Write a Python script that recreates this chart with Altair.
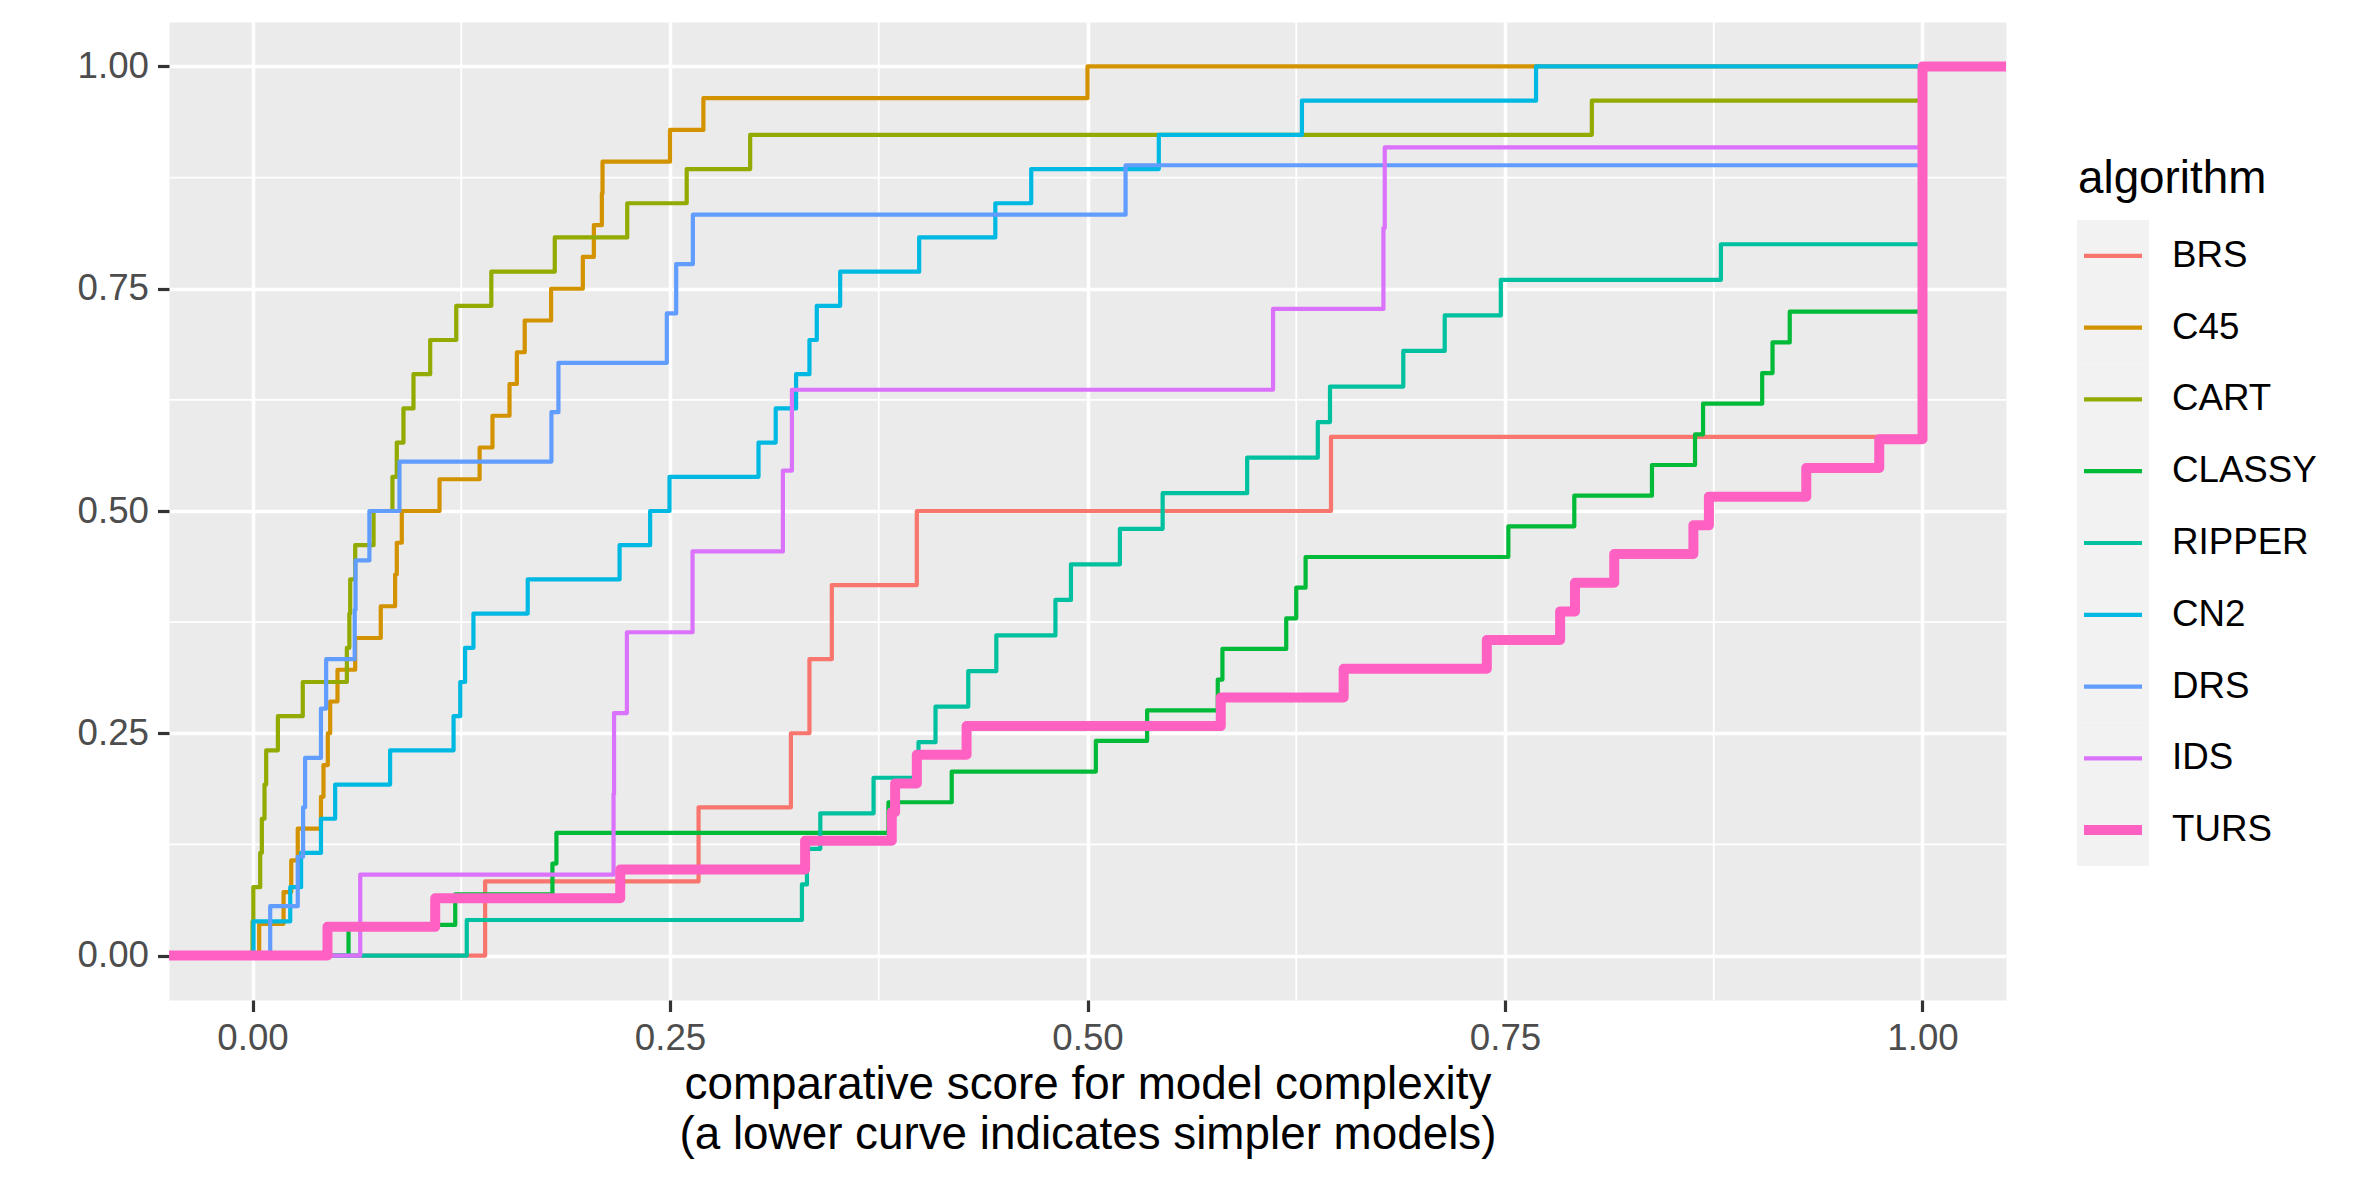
import altair as alt
import pandas as pd

# ---------------- data ----------------
XMIN, XMAX = -0.05, 1.05
YMIN, YMAX = -0.05, 1.05

algorithms = ["BRS", "C45", "CART", "CLASSY", "RIPPER", "CN2", "DRS", "IDS", "TURS"]
colors = ["#F8766D", "#D39200", "#93AA00", "#00BA38", "#00C19F",
          "#00B9E3", "#619CFF", "#DB72FB", "#FF61C3"]

# comparative complexity scores (one value per dataset) per algorithm
brs = [0.1393, 0.2671, 0.3224, 0.3335, 0.3469, 0.3978, 0.6458,
       1.0, 1.0, 1.0, 1.0, 1.0]
c45 = [0.004, 0.0186, 0.0232, 0.0271, 0.041, 0.0425, 0.0451, 0.0465, 0.0509,
       0.0615, 0.0768, 0.0854, 0.0864, 0.0894, 0.112, 0.136, 0.1437, 0.1539,
       0.1583, 0.1630, 0.1788, 0.1978, 0.2044, 0.2092, 0.2096, 0.25, 0.27, 0.5]
cart = [0.0, 0.0005, 0.0046, 0.0056, 0.0072, 0.0082, 0.0152, 0.0301, 0.0565,
        0.058, 0.0585, 0.0615, 0.0725, 0.0838, 0.0864, 0.0904, 0.0964, 0.1064,
        0.122, 0.143, 0.181, 0.2244, 0.26, 0.298, 0.802, 1.0]
classy = [0.0575, 0.1214, 0.1796, 0.182, 0.3808, 0.4187, 0.505, 0.5357, 0.578,
          0.5808, 0.619, 0.625, 0.6306, 0.752, 0.7915, 0.838, 0.8638, 0.8686,
          0.904, 0.9102, 0.9205, 1.0, 1.0, 1.0, 1.0, 1.0, 1.0, 1.0, 1.0]
ripper = [0.1283, 0.329, 0.332, 0.34, 0.3719, 0.3988, 0.409, 0.4286, 0.4454,
          0.4808, 0.4901, 0.5194, 0.545, 0.5956, 0.6379, 0.6452, 0.6891, 0.7139,
          0.7475, 0.8793, 1.0, 1.0, 1.0, 1.0, 1.0]
cn2 = [0.0006, 0.0226, 0.0291, 0.041, 0.0495, 0.0824, 0.1204, 0.1244, 0.1273,
       0.1323, 0.1648, 0.2198, 0.2381, 0.2497, 0.303, 0.3133, 0.3255, 0.3335,
       0.3379, 0.3519, 0.3992, 0.4448, 0.4663, 0.5427, 0.6284, 0.7686]
drs = [0.0106, 0.0271, 0.0303, 0.0315, 0.041, 0.0441, 0.0612, 0.0617, 0.070,
       0.088, 0.179, 0.1832, 0.2481, 0.2537, 0.2637, 0.5228, 1.0, 1.0]
ids = [0.0645, 0.2162, 0.2165, 0.2242, 0.2635, 0.3176, 0.323, 0.6111, 0.6772,
       0.678, 1.0]
turs = [0.0449, 0.1094, 0.2202, 0.3309, 0.3828, 0.3848, 0.3978, 0.4276, 0.5798,
        0.6534, 0.7391, 0.783, 0.7919, 0.8154, 0.8628, 0.8721, 0.9304, 0.9741,
        1.0, 1.0, 1.0, 1.0, 1.0, 1.0, 1.0, 1.0, 1.0, 1.0, 1.0, 1.0, 1.0]

major_ticks = [0.0, 0.25, 0.5, 0.75, 1.0]
minor_ticks = [0.125, 0.375, 0.625, 0.875]

x_title = ["comparative score for model complexity",
           "(a lower curve indicates simpler models)"]
legend_title = "algorithm"

scores = {"BRS": brs, "C45": c45, "CART": cart, "CLASSY": classy,
          "RIPPER": ripper, "CN2": cn2, "DRS": drs, "IDS": ids, "TURS": turs}

# empirical cumulative distribution (like stat_ecdf with padding)
rows = []
for alg in algorithms:
    obs = sorted(scores[alg])
    n = len(obs)
    rows.append({"algorithm": alg, "score": XMIN, "ecdf": 0.0, "step": 0})
    for i, v in enumerate(obs):
        rows.append({"algorithm": alg, "score": v, "ecdf": (i + 1) / n, "step": i + 1})
    rows.append({"algorithm": alg, "score": XMAX, "ecdf": 1.0, "step": n + 1})
df = pd.DataFrame(rows)
minor_df = pd.DataFrame({"v": minor_ticks})
leg_df = pd.DataFrame({"algorithm": algorithms})
title_df = pd.DataFrame({"t": [legend_title]})

# ---------------- styling ----------------
W, H = 1837, 978
FONT = "Liberation Sans"

xscale = alt.Scale(domain=[XMIN, XMAX], nice=False, zero=False)
yscale = alt.Scale(domain=[YMIN, YMAX], nice=False, zero=False)
cscale = alt.Scale(domain=algorithms, range=colors)

common_axis = dict(values=major_ticks, format=".2f", labelFontSize=36.7,
                   labelColor="#4D4D4D", labelFont=FONT, tickSize=11.5,
                   tickWidth=3.2, tickColor="#333333", domain=False, grid=True,
                   gridColor="white", gridWidth=3.5, labelOverlap=False,
                   labelFlush=False, labelPadding=9)
x_axis = alt.Axis(title=x_title, titleFontSize=45.8, titleFontWeight="normal",
                  titleColor="black", titleFont=FONT, titleLineHeight=50,
                  titlePadding=5, **common_axis)
y_axis = alt.Axis(title="", **common_axis)

minor_x = alt.Chart(minor_df).mark_rule(color="white", strokeWidth=1.8).encode(
    x=alt.X("v:Q", scale=xscale, axis=x_axis))
minor_y = alt.Chart(minor_df).mark_rule(color="white", strokeWidth=1.8).encode(
    y=alt.Y("v:Q", scale=yscale, axis=y_axis))

def step_layer(filter_expr, width):
    return alt.Chart(df).transform_filter(filter_expr).mark_line(
        interpolate="step-after", strokeWidth=width, strokeJoin="round",
        strokeCap="butt").encode(
        x=alt.X("score:Q", scale=xscale, axis=x_axis),
        y=alt.Y("ecdf:Q", scale=yscale, axis=y_axis),
        color=alt.Color("algorithm:N", scale=cscale, legend=None),
        order=alt.Order("step:Q"))

others = step_layer("datum.algorithm != 'TURS'", 4.2)
turs_line = step_layer("datum.algorithm == 'TURS'", 10)

main = alt.layer(minor_x, minor_y, others, turs_line)

# ---------------- manual legend (ggplot style) ----------------
band = alt.Scale(type="band", domain=algorithms, range=[198, 844],
                 paddingInner=0, paddingOuter=0)
pts = alt.Scale(type="point", domain=algorithms, range=[198, 844], padding=0.5)

leg_bg = alt.Chart(leg_df).mark_rect(color="#F2F2F2").encode(
    y=alt.Y("algorithm:N", scale=band, axis=None),
    x=alt.value(1908), x2=alt.value(1980))

leg_lines = alt.Chart(leg_df).mark_rule(strokeCap="butt").encode(
    y=alt.Y("algorithm:N", scale=pts, axis=None),
    x=alt.value(1915), x2=alt.value(1973),
    color=alt.Color("algorithm:N", scale=cscale, legend=None),
    strokeWidth=alt.when(alt.datum.algorithm == "TURS").then(alt.value(10)).otherwise(alt.value(4.2)))

leg_text = alt.Chart(leg_df).mark_text(align="left", baseline="middle",
                                       fontSize=36.7, color="black", font=FONT).encode(
    y=alt.Y("algorithm:N", scale=pts, axis=None),
    x=alt.value(2003), text="algorithm:N")

leg_title = alt.Chart(title_df).mark_text(align="left", baseline="alphabetic",
                                          fontSize=45.8, color="black", font=FONT).encode(
    x=alt.value(1909), y=alt.value(171), text="t:N")

legend_items = alt.layer(leg_lines, leg_text, leg_title)

chart = alt.layer(main, leg_bg, legend_items).resolve_scale(
    y="independent"
).properties(
    width=W, height=H,
    autosize=alt.AutoSizeParams(type="none"),
    padding={"left": 161, "top": 14, "right": 348, "bottom": 173},
    background="white",
).configure(font=FONT).configure_view(fill="#EBEBEB", stroke="transparent")

chart.save("out.html", embed_options={"renderer": "svg", "actions": False})
